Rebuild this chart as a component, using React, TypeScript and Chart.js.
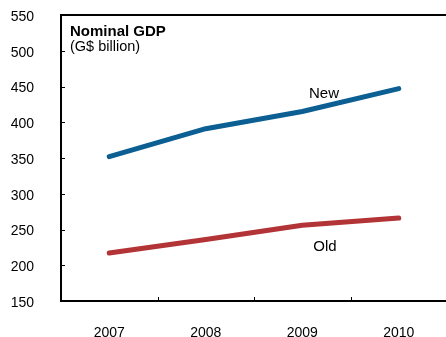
import React, { useEffect, useRef } from "react";
import { Chart, registerables } from "chart.js";

Chart.register(...registerables);

const years = ["2007", "2008", "2009", "2010"];
const newSeries = [352, 391, 415, 447];
const oldSeries = [217, 236, 256, 266];
const yTicks = [150, 200, 250, 300, 350, 400, 450, 500, 550];

const FONT = "'Liberation Sans', Arial, Helvetica, sans-serif";

// Frame (left, top, bottom), inward tick marks and text annotations
const framePlugin = {
  id: "frame",
  beforeDatasetsDraw(chart: any) {
    const { ctx, chartArea } = chart;
    const { left, right, top, bottom } = chartArea;
    const y = chart.scales.y;
    const x = chart.scales.x;
    ctx.save();
    ctx.strokeStyle = "#000";
    ctx.lineWidth = 2;
    ctx.beginPath();
    ctx.moveTo(right + 5, top);
    ctx.lineTo(left, top);
    ctx.lineTo(left, bottom);
    ctx.lineTo(right + 5, bottom);
    ctx.stroke();

    ctx.lineWidth = 1;
    ctx.beginPath();
    for (const v of yTicks) {
      const py = Math.round(y.getPixelForValue(v)) + 0.5;
      ctx.moveTo(left, py);
      ctx.lineTo(left + 4, py);
    }
    for (let i = 0; i < years.length - 1; i++) {
      const px = Math.round((x.getPixelForValue(i) + x.getPixelForValue(i + 1)) / 2) + 0.5;
      ctx.moveTo(px, bottom);
      ctx.lineTo(px, bottom - 4);
    }
    ctx.stroke();
    ctx.restore();
  },
  afterDatasetsDraw(chart: any) {
    const { ctx } = chart;
    ctx.save();
    ctx.fillStyle = "#000";
    ctx.textBaseline = "middle";
    ctx.textAlign = "left";
    ctx.font = `bold 15px ${FONT}`;
    ctx.fillText("Nominal GDP", 70, 32);
    ctx.font = `14.5px ${FONT}`;
    ctx.fillText("(G$ billion)", 70, 47);
    ctx.font = `15px ${FONT}`;
    ctx.textAlign = "center";
    ctx.fillText("New", 324, 94);
    ctx.fillText("Old", 325, 247);
    ctx.restore();
  },
};

export default function App() {
  const ref = useRef<HTMLCanvasElement | null>(null);

  useEffect(() => {
    if (!ref.current) return;
    const chart = new Chart(ref.current, {
      type: "line",
      data: {
        labels: years,
        datasets: [
          {
            label: "New",
            data: newSeries,
            borderColor: "#0b5f93",
            borderWidth: 5,
            borderCapStyle: "round",
            borderJoinStyle: "round",
            pointRadius: 0,
            tension: 0,
          },
          {
            label: "Old",
            data: oldSeries,
            borderColor: "#b23436",
            borderWidth: 5,
            borderCapStyle: "round",
            borderJoinStyle: "round",
            pointRadius: 0,
            tension: 0,
          },
        ],
      },
      options: {
        responsive: false,
        animation: false,
        layout: { padding: { left: 0, top: 15, right: 13, bottom: 0 } },
        plugins: {
          legend: { display: false },
          tooltip: { enabled: false },
          title: { display: false },
        },
        scales: {
          x: {
            type: "category",
            offset: true,
            grid: { display: false },
            border: { display: false },
            ticks: {
              color: "#000",
              font: { family: FONT, size: 14 },
              padding: 16,
              maxRotation: 0,
            },
            afterFit(scale: any) {
              scale.height = 36;
              scale.paddingLeft = 0;
              scale.paddingRight = 0;
            },
          },
          y: {
            min: 150,
            max: 550,
            grid: { display: false },
            border: { display: false },
            ticks: {
              stepSize: 50,
              color: "#000",
              font: { family: FONT, size: 14 },
              padding: 19,
              labelOffset: 2,
            },
            afterFit(scale: any) {
              scale.width = 61;
              scale.paddingTop = 0;
              scale.paddingBottom = 0;
            },
          },
        },
      },
      plugins: [framePlugin],
    });
    return () => chart.destroy();
  }, []);

  return (
    <div
      style={{
        position: "fixed",
        left: 0,
        top: 0,
        width: 446,
        height: 337,
        overflow: "hidden",
        background: "#fff",
      }}
    >
      <canvas ref={ref} width={460} height={337} style={{ display: "block" }} />
    </div>
  );
}
